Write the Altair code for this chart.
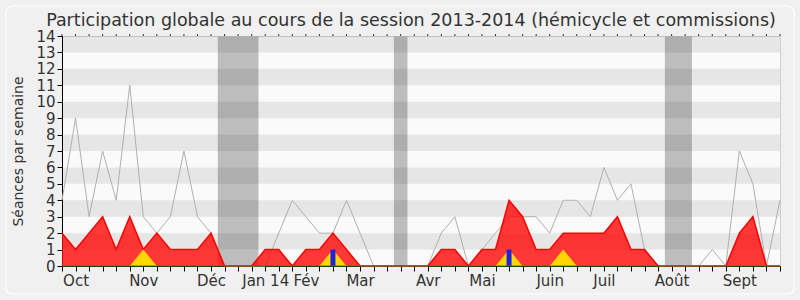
import altair as alt
import pandas as pd

# ---- data (one point per week, Oct 2013 -> Sept 2014) ----
weeks = list(range(54))
total_sessions = [4, 9, 3, 7, 4, 11, 3, 2, 3, 7, 3, 2, 0, 0, 0, 0, 2, 4, 3, 2,
                  2, 4, 2, 0, 0, 0, 0, 0, 2, 3, 0, 1, 2, 3, 3, 3, 2, 4, 4, 3,
                  6, 4, 5, 1, 0, 0, 0, 0, 1, 0, 7, 5, 0, 4]
presence = [2, 1, 2, 3, 1, 3, 1, 2, 1, 1, 1, 2, 0, 0, 0, 1, 1, 0, 1, 1,
            2, 1, 0, 0, 0, 0, 0, 0, 1, 1, 0, 1, 1, 4, 3, 1, 1, 2, 2, 2,
            2, 3, 1, 1, 0, 0, 0, 0, 0, 0, 2, 3, 0, 0]
interventions = [0, 0, 0, 0, 0, 0, 1, 0, 0, 0, 0, 0, 0, 0, 0, 0, 0, 0, 0, 0,
                 1, 0, 0, 0, 0, 0, 0, 0, 0, 0, 0, 0, 0, 1, 0, 0, 0, 1, 0, 0,
                 0, 0, 0, 0, 0, 0, 0, 0, 0, 0, 0, 0, 0, 0]
questions = [0] * 20 + [1] + [0] * 12 + [1] + [0] * 20
baseline = [0] * 54

month_weeks = [1, 6, 11, 15, 18, 22, 27, 31, 36, 40, 45, 50]
month_labels = ["Oct", "Nov", "Déc", "Jan 14", "Fév", "Mar", "Avr", "Mai",
                "Juin", "Juil", "Août", "Sept"]

holiday_start = [11.5, 24.5, 44.5]
holiday_end = [14.5, 25.5, 46.5]

stripe_lo = list(range(1, 14, 2))
stripe_hi = [v + 1 for v in stripe_lo]

df = pd.DataFrame({
    "week": weeks,
    "total": total_sessions,
    "presence": presence,
    "interv": interventions,
    "questions": questions,
    "base": baseline,
})
hol = pd.DataFrame({"s": holiday_start, "e": holiday_end,
                    "lo": [0] * len(holiday_start), "hi": [14] * len(holiday_start)})
stripes = pd.DataFrame({"lo": stripe_lo, "hi": stripe_hi,
                        "x0": [0] * len(stripe_lo), "x1": [53] * len(stripe_lo)})

FONT = "DejaVu Sans"
xscale = alt.Scale(domain=[0, 53], nice=False, zero=False)
yscale = alt.Scale(domain=[0, 14], nice=False, zero=True)

label_expr = " : ".join(
    f"datum.value == {p} ? '{m}'" for p, m in zip(month_weeks, month_labels)
) + " : ''"

x_axis = alt.Axis(values=weeks, labelExpr=label_expr, tickSize=5, labelPadding=2,
                  labelOverlap=False, labelFlush=False, grid=False, title=None,
                  domainColor="#000000", tickColor="#000000", labelFont=FONT,
                  labelFontSize=15, labelColor="#333333")
y_axis = alt.Axis(values=list(range(15)), tickSize=5, labelPadding=2, grid=False,
                  labelOverlap=False, labelFlush=False,
                  title="Séances par semaine", titleFont=FONT, titleFontSize=14,
                  titleFontWeight="normal", titleColor="#333333", titlePadding=10,
                  domainColor="#000000", tickColor="#000000", labelFont=FONT,
                  labelFontSize=15, labelColor="#333333")


def X(field):
    return alt.X(field, type="quantitative", scale=xscale, axis=x_axis)


def Y(field):
    return alt.Y(field, type="quantitative", scale=yscale, axis=y_axis)


holidays = alt.Chart(hol).mark_rect(color="#bdbdbd").encode(
    x=X("s"), x2="e", y=Y("lo"), y2="hi")

stripe_layer = alt.Chart(stripes).mark_rect(color="#000000", opacity=0.08).encode(
    x=X("x0"), x2="x1", y=Y("lo"), y2="hi")

base = alt.Chart(df)

grey = base.mark_line(color="#b0b0b0", strokeWidth=1).encode(x=X("week"), y=Y("total"))

red = base.mark_area(color="#ff0000", fillOpacity=0.78,
                     line={"color": "#ff0000", "strokeWidth": 1.5}).encode(
    x=X("week"), y=Y("presence"))

yellow = base.mark_area(color="#ffd700", opacity=1).encode(x=X("week"), y=Y("interv"))

blue = base.transform_filter("datum.questions > 0").mark_rule(
    color="#2222dd", strokeWidth=5).encode(x=X("week"), y=Y("questions"), y2="base")

green = base.mark_line(color="#2e8b22", strokeWidth=1).encode(x=X("week"), y=Y("base"))

top_dots = base.mark_rule(color="#333333", strokeWidth=1).encode(
    x=X("week"), y=alt.value(-2), y2=alt.value(0))

# decorative rounded frame around the whole figure
frame = alt.Chart(pd.DataFrame({"k": [0]})).mark_rect(
    fill=None, stroke="#ffffff", strokeWidth=1.2, cornerRadius=6, clip=False).encode(
    x=alt.value(-56), x2=alt.value(732), y=alt.value(-30), y2=alt.value(258))

chart = alt.layer(
    frame, holidays, stripe_layer, grey, red, yellow, blue, green, top_dots
).properties(
    width=718, height=230,
    title=alt.TitleParams(
        "Participation globale au cours de la session 2013-2014 (hémicycle et commissions)",
        font=FONT, fontSize=17.5, fontWeight="normal", color="#333333",
        anchor="middle", dx=-10, offset=-24),
    background="#f0f0f0",
    autosize=alt.AutoSizeParams(type="none"),
    padding={"left": 62, "top": 36, "right": 20, "bottom": 34},
).configure_view(fill="#fafafa", stroke="#cfcfcf")

chart.save("out.html", embed_options={"renderer": "svg", "actions": False})
